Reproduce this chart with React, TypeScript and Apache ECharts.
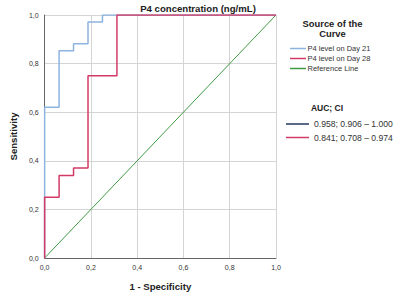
import React, { useEffect, useRef } from "react";
import * as echarts from "echarts";

// ROC curves: [1 - specificity, sensitivity]
const day21Roc: [number, number][] = [
  [0, 0], [0, 0.62], [0.0625, 0.62], [0.0625, 0.853], [0.125, 0.853], [0.125, 0.882],
  [0.1875, 0.882], [0.1875, 0.971], [0.25, 0.971], [0.25, 1.0], [1.0, 1.0],
];
const day28Roc: [number, number][] = [
  [0, 0], [0, 0.25], [0.0625, 0.25], [0.0625, 0.34], [0.125, 0.34], [0.125, 0.37],
  [0.1875, 0.37], [0.1875, 0.75], [0.3125, 0.75], [0.3125, 1.0], [1.0, 1.0],
];
const referenceLine: [number, number][] = [[0, 0], [1, 1]];

const seriesNames = ["P4 level on Day 21", "P4 level on Day 28", "Reference Line"];
const seriesColors = ["#8db4e0", "#d23a66", "#3f9a45"];
const aucLabels = ["0.958; 0.906 \u2013 1.000", "0.841; 0.708 \u2013 0.974"];
const aucColors = ["#24395e", "#d23a66"];

const FONT = "'Liberation Sans', Arial, sans-serif";

export default function App() {
  const ref = useRef<HTMLDivElement>(null);

  useEffect(() => {
    document.body.style.margin = "0";
    if (!ref.current) return;
    const chart = echarts.init(ref.current, null, { renderer: "svg" });

    const fmt = (v: number) => v.toFixed(1).replace(".", ",");

    const legendItems: any[] = [];
    seriesNames.forEach((name, i) => {
      const y = 48.5 + i * 10;
      legendItems.push({
        type: "line",
        shape: { x1: 290, y1: y, x2: 306, y2: y },
        style: { stroke: seriesColors[i], lineWidth: 1.5 },
      });
      legendItems.push({
        type: "text",
        x: 307.5,
        y,
        style: { text: name, font: `7.5px ${FONT}`, fill: "#333", textVerticalAlign: "middle" },
      });
    });
    aucLabels.forEach((label, i) => {
      const y = 124 + i * 13.5;
      legendItems.push({
        type: "line",
        shape: { x1: 286, y1: y, x2: 309, y2: y },
        style: { stroke: aucColors[i], lineWidth: 1.5 },
      });
      legendItems.push({
        type: "text",
        x: 314,
        y,
        style: { text: label, font: `8.6px ${FONT}`, fill: "#333", textVerticalAlign: "middle" },
      });
    });

    chart.setOption({
      animation: false,
      textStyle: { fontFamily: FONT },
      grid: { left: 31, right: 124, top: 15, bottom: 34, containLabel: false },
      xAxis: {
        type: "value",
        min: 0,
        max: 1,
        interval: 0.2,
        name: "1 - Specificity",
        nameLocation: "middle",
        nameGap: 23,
        nameTextStyle: { fontWeight: "bold", fontSize: 9.6, color: "#222", fontFamily: FONT },
        axisLine: { show: true, lineStyle: { color: "#666", width: 1 } },
        axisTick: { show: false },
        axisLabel: { formatter: fmt, fontSize: 7, color: "#333", margin: 6, fontFamily: FONT },
        splitLine: { show: true, lineStyle: { color: "#d4d4d4", width: 1 } },
      },
      yAxis: {
        type: "value",
        min: 0,
        max: 1,
        interval: 0.2,
        name: "Sensitivity",
        nameLocation: "middle",
        nameGap: 18,
        nameTextStyle: { fontWeight: "bold", fontSize: 9.6, color: "#222", fontFamily: FONT },
        axisLine: { show: true, lineStyle: { color: "#666", width: 1 } },
        axisTick: { show: false },
        axisLabel: { formatter: fmt, fontSize: 7, color: "#333", margin: 6, fontFamily: FONT },
        splitLine: { show: true, lineStyle: { color: "#d4d4d4", width: 1 } },
      },
      series: [
        {
          name: seriesNames[2],
          type: "line",
          data: referenceLine,
          symbol: "none",
          lineStyle: { color: seriesColors[2], width: 1 },
          z: 2,
        },
        {
          name: seriesNames[0],
          type: "line",
          data: day21Roc,
          symbol: "none",
          lineStyle: { color: seriesColors[0], width: 1.5 },
          z: 3,
        },
        {
          name: seriesNames[1],
          type: "line",
          data: day28Roc,
          symbol: "none",
          lineStyle: { color: seriesColors[1], width: 1.5 },
          z: 4,
        },
      ],
      graphic: [
        {
          type: "text",
          x: 198,
          y: 8.5,
          style: {
            text: "P4 concentration (ng/mL)",
            font: `bold 9.6px ${FONT}`,
            fill: "#222",
            textAlign: "center",
            textVerticalAlign: "middle",
          },
        },
        {
          type: "text",
          x: 332.5,
          y: 28.5,
          style: {
            text: "Source of the\nCurve",
            font: `bold 9.4px ${FONT}`,
            fill: "#222",
            textAlign: "center",
            textVerticalAlign: "middle",
            lineHeight: 10,
          },
        },
        {
          type: "text",
          x: 327,
          y: 108,
          style: {
            text: "AUC; CI",
            font: `bold 8.5px ${FONT}`,
            fill: "#222",
            textAlign: "center",
            textVerticalAlign: "middle",
          },
        },
        ...legendItems,
      ],
    });

    return () => chart.dispose();
  }, []);

  return <div ref={ref} style={{ width: 400, height: 296 }} />;
}
